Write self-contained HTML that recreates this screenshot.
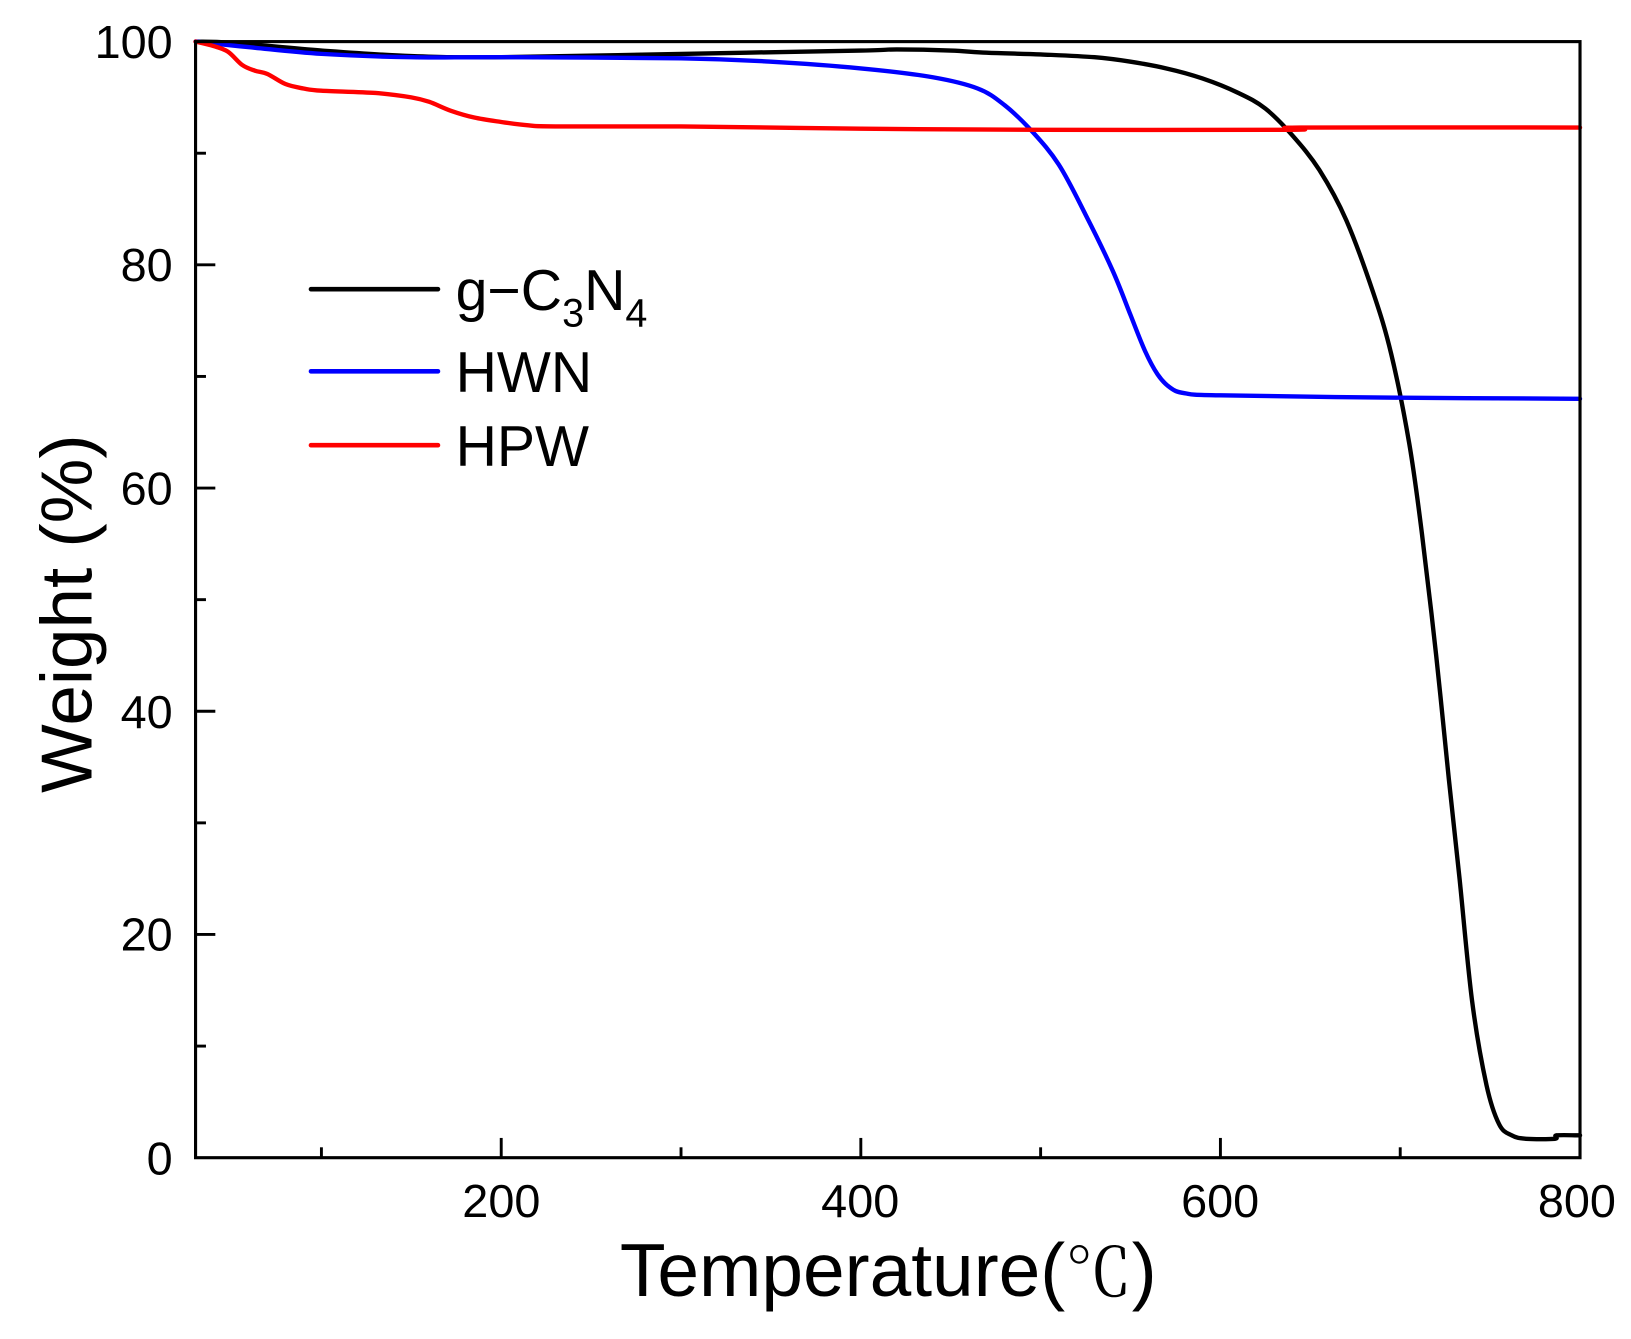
<!DOCTYPE html>
<html><head><meta charset="utf-8"><style>html,body{margin:0;padding:0;background:#fff}svg{display:block}</style></head>
<body>
<svg id="s" width="1631" height="1339" viewBox="0 0 1568 1287.3" xmlns="http://www.w3.org/2000/svg" font-family="'Liberation Sans', Arial, sans-serif">
<rect x="0" y="0" width="1568" height="1288" fill="#fff"/>
<g id="ticks" stroke="#000" stroke-width="2.8"></g>
<g id="curves" fill="none" stroke-width="4.2" stroke-linejoin="round" stroke-linecap="round"></g>
<rect x="188" y="40" width="1331" height="1073" fill="none" stroke="#000" stroke-width="3"/>
<g font-size="45" fill="#000">
<text x="166" y="56" text-anchor="end">100</text>
<text x="166" y="270" text-anchor="end">80</text>
<text x="166" y="485" text-anchor="end">60</text>
<text x="166" y="700" text-anchor="end">40</text>
<text x="166" y="914" text-anchor="end">20</text>
<text x="166" y="1129" text-anchor="end">0</text>
<text x="482" y="1170" text-anchor="middle">200</text>
<text x="827" y="1170" text-anchor="middle">400</text>
<text x="1173" y="1170" text-anchor="middle">600</text>
<text x="1516" y="1170" text-anchor="middle">800</text>
</g>
<text x="596" y="1246" font-size="72">Temperature(<tspan font-family="'Noto Serif CJK SC', serif" font-size="64">℃</tspan>)</text>
<text transform="translate(88,590) rotate(-90)" font-size="70" text-anchor="middle">Weight (%)</text>
<g stroke-width="4.5" stroke-linecap="round">
<line x1="299" y1="278" x2="421" y2="278" stroke="#000"/>
<line x1="299" y1="357" x2="421" y2="357" stroke="#0000ff"/>
<line x1="299" y1="428" x2="421" y2="428" stroke="#ff0000"/>
</g>
<g font-size="55" fill="#000">
<text x="438" y="298">g−C<tspan font-size="38" dy="16">3</tspan><tspan dy="-16">N</tspan><tspan font-size="38" dy="16">4</tspan></text>
<text x="438" y="377">HWN</text>
<text x="438" y="448">HPW</text>
</g>
</svg>
<script>
const X=t=>188+(t-30)*1331/770, Y=w=>1113-w*10.73;
const ns="http://www.w3.org/2000/svg";
const tk=document.getElementById('ticks');
function ln(x1,y1,x2,y2){const l=document.createElementNS(ns,'line');l.setAttribute('x1',x1);l.setAttribute('y1',y1);l.setAttribute('x2',x2);l.setAttribute('y2',y2);tk.appendChild(l);}
for(let t=100;t<800;t+=100){const x=X(t);ln(x,1113,x,1113-(t%200==0?19:10));}
for(let w=10;w<100;w+=10){const y=Y(w);ln(188,y,188+(w%20==0?19:10),y);}
const data={
"#000":[[30,100],[50,99.9],[100,99.2],[150,98.7],[200,98.6],[300,98.9],[400,99.2],[420,99.3],[450,99.2],[470,99],[500,98.85],[530,98.6],[550,98.2],[570,97.6],[590,96.7],[610,95.4],[625,94],[640,91.6],[655,88.5],[670,84],[685,77.5],[695,72],[705,64],[712,56],[720,45],[727,34],[733,25],[740,14],[748,6.5],[755,3],[762,2],[770,1.7],[786,1.7],[787,2],[800,2]],
"#0000ff":[[30,100],[60,99.5],[100,98.9],[150,98.6],[200,98.6],[300,98.5],[350,98.2],[400,97.6],[440,96.8],[465,95.8],[480,94.3],[495,92],[510,89],[525,84.5],[540,79.5],[550,75.5],[558,72.3],[565,70.2],[572,69],[580,68.5],[600,68.3],[700,68.1],[800,68]],
"#ff0000":[[30,100],[40,99.6],[48,99.1],[56,97.9],[63,97.4],[70,97.1],[80,96.2],[90,95.8],[100,95.6],[130,95.4],[150,95],[160,94.6],[172,93.8],[185,93.2],[200,92.8],[215,92.5],[230,92.4],[300,92.4],[400,92.2],[500,92.1],[640,92.1],[644,92.3],[800,92.3]]};
const g=document.getElementById('curves');
for(const c in data){
 const P=data[c].map(d=>[X(d[0]),Y(d[1])]);
 let s='M'+P[0][0].toFixed(1)+','+P[0][1].toFixed(1);
 for(let i=0;i<P.length-1;i++){
  const p0=P[Math.max(0,i-1)],p1=P[i],p2=P[i+1],p3=P[Math.min(P.length-1,i+2)];
  const c1=[p1[0]+(p2[0]-p0[0])/6,p1[1]+(p2[1]-p0[1])/6];
  const c2=[p2[0]-(p3[0]-p1[0])/6,p2[1]-(p3[1]-p1[1])/6];
  s+=' C'+c1.map(v=>v.toFixed(1))+' '+c2.map(v=>v.toFixed(1))+' '+p2.map(v=>v.toFixed(1));
 }
 const p=document.createElementNS(ns,'path');p.setAttribute('d',s);p.setAttribute('stroke',c);g.appendChild(p);}
</script>
</body></html>
